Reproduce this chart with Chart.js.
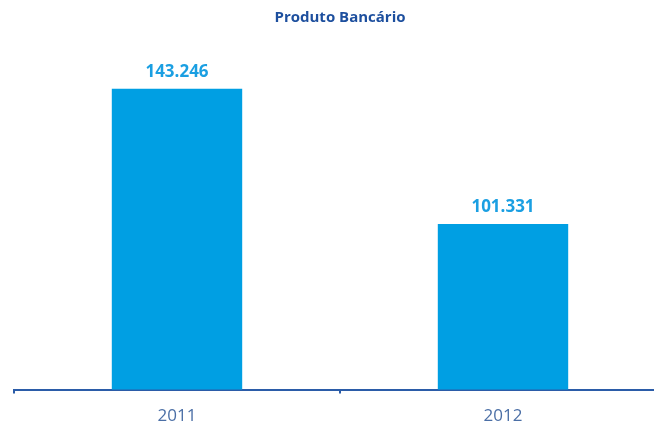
<!DOCTYPE html>
<html>
<head>
<meta charset="utf-8">
<script src="https://cdn.jsdelivr.net/npm/chart.js@4/dist/chart.umd.min.js"></script>
<style>
  html, body { margin: 0; padding: 0; background: #fff; overflow: hidden; }
  #chart { display: block; }
</style>
</head>
<body>
<canvas id="chart" width="666" height="439"></canvas>
<script>
// DATA ------------------------------------------------------
const years = ["2011", "2012"];
const produtoBancario = [143246, 101331];

// LABELS ABOVE BARS ------------------------------------------------------
const fmt = v => String(v).replace(/\B(?=(\d{3})+(?!\d))/g, ".");

const valueLabels = {
    id: 'valueLabels',
    afterDatasetsDraw(chart) {
        const ctx = chart.ctx;
        const meta = chart.getDatasetMeta(0);
        ctx.save();
        ctx.font = 'bold 17px "Open Sans", sans-serif';
        ctx.fillStyle = '#1a9fe2';
        ctx.textAlign = 'center';
        ctx.textBaseline = 'alphabetic';
        meta.data.forEach((bar, i) => {
            ctx.fillText(fmt(produtoBancario[i]), bar.x, bar.y - 12);
        });
        ctx.restore();
    }
};

// BAR CHART ------------------------------------------------------
const axisColor = '#2b5ca8';

new Chart(document.getElementById("chart"), {
    type: 'bar',
    data: {
        labels: years,
        datasets: [{
            data: produtoBancario,
            backgroundColor: '#009fe3',
            borderWidth: 0,
            barPercentage: 0.4,
            categoryPercentage: 1
        }]
    },
    options: {
        responsive: false,
        animation: false,
        layout: { padding: { left: 14, right: 0, top: 0, bottom: 1 } },
        scales: {
            x: {
                border: { color: axisColor, width: 2 },
                grid: {
                    drawOnChartArea: false,
                    drawTicks: true,
                    tickLength: 4,
                    color: axisColor,
                    lineWidth: 2
                },
                ticks: {
                    padding: 12,
                    color: '#4b6fa6',
                    font: { family: '"Open Sans", sans-serif', size: 17 }
                }
            },
            y: {
                display: false,
                min: 50000,
                max: 150000
            }
        },
        plugins: {
            legend: { display: false },
            tooltip: { enabled: false },
            title: {
                display: true,
                fullSize: false,
                text: 'Produto Bancário',
                color: '#1d4f9e',
                font: { family: '"Open Sans", sans-serif', size: 15, weight: 'bold' },
                padding: { top: 9, bottom: 40 }
            }
        }
    },
    plugins: [valueLabels]
});
</script>
</body>
</html>
